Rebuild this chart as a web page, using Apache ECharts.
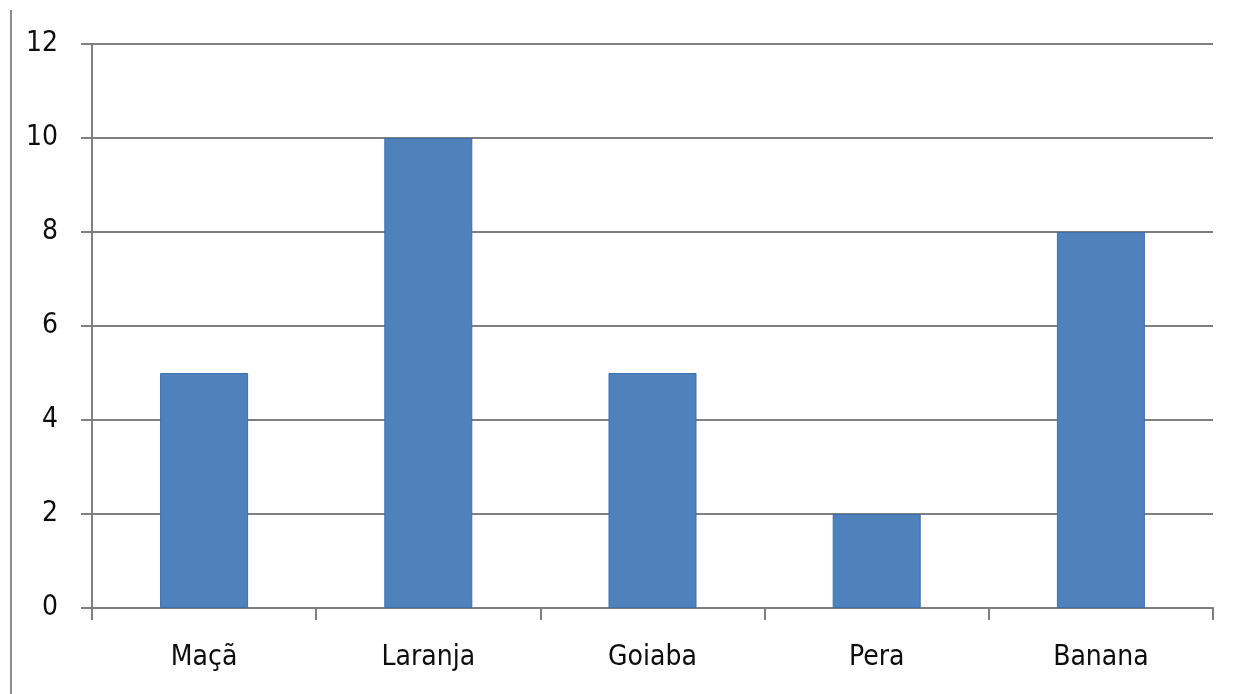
<!DOCTYPE html>
<html>
<head>
<meta charset="utf-8">
<script src="https://cdn.jsdelivr.net/npm/echarts@6/dist/echarts.min.js"></script>
<style>
html,body{margin:0;padding:0;background:#fff;}
#chart{width:1239px;height:694px;}
</style>
</head>
<body>
<div id="chart"></div>
<script>
const categories = ['Maçã', 'Laranja', 'Goiaba', 'Pera', 'Banana'];
const values = [5, 10, 5, 2, 8];
const yTicks = [0, 2, 4, 6, 8, 10, 12];

const chart = echarts.init(document.getElementById('chart'));
chart.setOption({
  animation: false,
  backgroundColor: '#fff',
  grid: { left: 92, right: 26, top: 44, bottom: 86, containLabel: false },
  graphic: [{
    type: 'line',
    shape: { x1: 11, y1: 10, x2: 11, y2: 694 },
    style: { stroke: '#8c8c8c', lineWidth: 2 }
  }],
  xAxis: {
    type: 'category',
    data: categories,
    axisLine: { lineStyle: { color: '#7f7f7f', width: 2 } },
    axisTick: { show: true, length: 12, alignWithLabel: false, lineStyle: { color: '#7f7f7f', width: 2 } },
    axisLabel: { margin: 36, color: '#0d0d0d', fontSize: 28, fontFamily: '"DejaVu Sans Condensed", sans-serif' }
  },
  yAxis: {
    type: 'value',
    min: yTicks[0],
    max: yTicks[yTicks.length - 1],
    interval: 2,
    axisLine: { show: true, lineStyle: { color: '#7f7f7f', width: 2 } },
    axisTick: { show: true, length: 11, lineStyle: { color: '#7f7f7f', width: 2 } },
    splitLine: { lineStyle: { color: '#7f7f7f', width: 2 } },
    axisLabel: { margin: 34, color: '#0d0d0d', fontSize: 28, fontFamily: '"DejaVu Sans Condensed", sans-serif' }
  },
  series: [{
    type: 'bar',
    data: values,
    barWidth: 88,
    itemStyle: { color: '#4f81bd', borderColor: '#3f6fa8', borderWidth: 1 }
  }]
});
</script>
</body>
</html>
